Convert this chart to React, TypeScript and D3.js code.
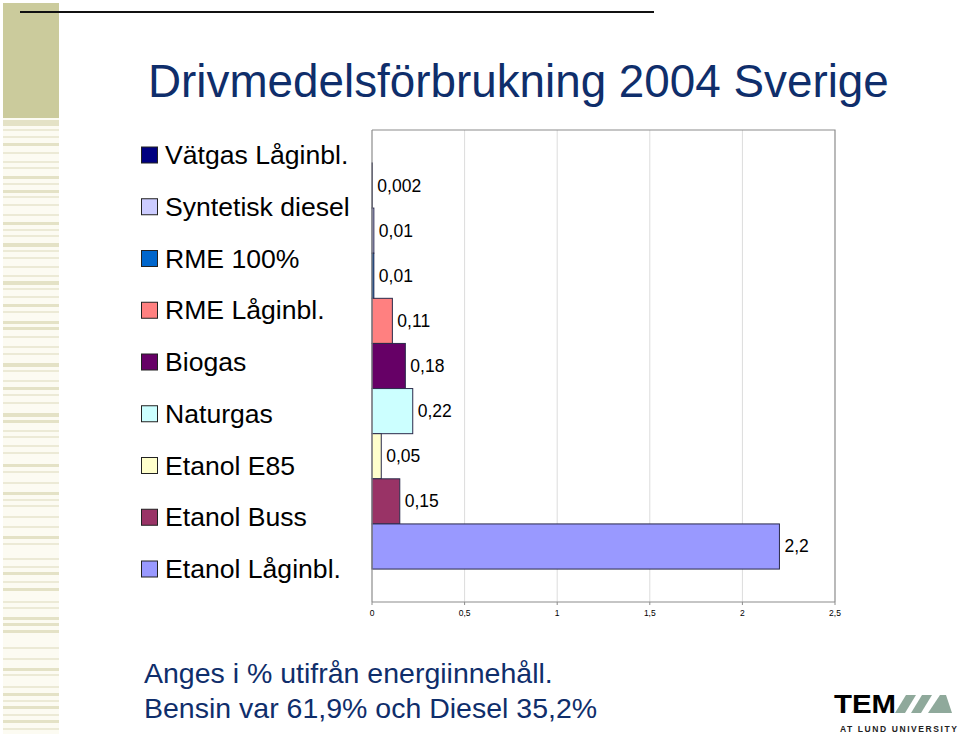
import React from "react";
import * as d3 from "d3";

const categories = [
  "Vätgas Låginbl.",
  "Syntetisk diesel",
  "RME 100%",
  "RME Låginbl.",
  "Biogas",
  "Naturgas",
  "Etanol E85",
  "Etanol Buss",
  "Etanol Låginbl.",
];
const values = [0.002, 0.01, 0.01, 0.11, 0.18, 0.22, 0.05, 0.15, 2.2];
const valueLabels = ["0,002", "0,01", "0,01", "0,11", "0,18", "0,22", "0,05", "0,15", "2,2"];
const colors = ["#000080", "#CCCCFF", "#0066CC", "#FF8080", "#660066", "#CCFFFF", "#FFFFCC", "#993366", "#9999FF"];
const xTicks = [0, 0.5, 1, 1.5, 2, 2.5];
const xTickLabels = ["0", "0,5", "1", "1,5", "2", "2,5"];

const title = "Drivmedelsförbrukning 2004 Sverige";
const footLines = ["Anges i % utifrån energiinnehåll.", "Bensin var 61,9% och Diesel 35,2%"];

// decorative stripes of the slide template: [y, height, shade]
const stripes: [number, number, number][] = [
  [120, 6, 1], [129, 2, 0], [136, 2, 0], [143, 3, 1], [152, 2, 0], [161, 2, 0], [167, 2, 0],
  [176, 3, 1], [183, 2, 0], [190, 3, 1], [196, 2, 0], [204, 2, 0], [214, 2, 0], [222, 3, 1],
  [229, 2, 0], [235, 2, 0], [243, 4, 1], [250, 2, 0], [257, 2, 0], [266, 2, 0], [275, 2, 0],
  [281, 4, 1], [288, 2, 0], [296, 2, 0], [304, 3, 1], [311, 2, 0], [321, 3, 1], [327, 3, 1],
  [336, 2, 0], [346, 2, 0], [353, 2, 0], [363, 4, 1], [370, 2, 0], [380, 2, 0], [387, 3, 1],
  [394, 2, 0], [402, 2, 0], [413, 4, 1], [420, 3, 1], [430, 2, 0], [436, 2, 0], [445, 2, 0],
  [452, 2, 0], [464, 3, 1], [471, 2, 0], [482, 2, 0], [492, 3, 1], [499, 2, 0], [505, 2, 0],
  [516, 2, 0], [526, 2, 0], [536, 3, 1], [543, 2, 0], [558, 2, 0], [566, 2, 0], [572, 3, 1],
  [581, 2, 0], [588, 3, 1], [601, 2, 0], [607, 2, 0], [617, 3, 1], [623, 3, 1], [630, 3, 1],
  [647, 2, 0], [658, 2, 0], [668, 3, 1], [674, 2, 0], [686, 2, 0], [693, 3, 1], [700, 2, 0],
  [706, 3, 1], [714, 2, 0], [720, 3, 1], [728, 2, 0],
];

const W = 960;
const H = 734;
const plot = { left: 372, right: 835, top: 130, bottom: 602 };

export default function App() {
  const x = d3.scaleLinear().domain([0, 2.5]).range([plot.left, plot.right]);
  const y = d3
    .scaleBand<string>()
    .domain(categories)
    .range([plot.top, plot.bottom])
    .paddingInner(0)
    .paddingOuter(0.73);

  const navy = "#0F2E6B";
  const font = "Liberation Sans, Arial, sans-serif";

  return (
    <svg
      width={W}
      height={H}
      style={{ position: "absolute", left: 0, top: 0, background: "#fff" }}
      fontFamily={font}
    >
      {/* template decoration */}
      <rect x={3} y={118} width={56} height={616} fill="#FCFBF2" />
      <rect x={3} y={3} width={56} height={115} fill="#CBCB9C" />
      {stripes.map(([sy, sh, s], i) => (
        <rect key={i} x={3} y={sy} width={56} height={sh} fill={s ? "#E4E2C6" : "#ECEAD6"} />
      ))}
      <line x1={20} x2={654} y1={12} y2={12} stroke="#111" strokeWidth={2.2} />

      {/* title */}
      <text x={148} y={97} fontSize={45.8} fill={navy}>
        {title}
      </text>

      {/* legend */}
      {categories.map((c, i) => {
        const cy = 155 + i * 51.75;
        return (
          <g key={c}>
            <rect x={141.5} y={cy - 8} width={16} height={16} fill={colors[i]} stroke="#222" strokeWidth={1} />
            <text x={165} y={cy + 9} fontSize={26.6} fill="#000">
              {c}
            </text>
          </g>
        );
      })}

      {/* plot area */}
      <rect x={plot.left} y={plot.top} width={plot.right - plot.left} height={plot.bottom - plot.top} fill="#fff" />
      {xTicks.slice(1, -1).map((t) => (
        <line key={t} x1={x(t)} x2={x(t)} y1={plot.top} y2={plot.bottom} stroke="#DCDCDC" strokeWidth={1} />
      ))}
      <path
        d={`M${plot.left},${plot.top}H${plot.right}V${plot.bottom}`}
        fill="none"
        stroke="#8C8C8C"
        strokeWidth={1.2}
      />
      {categories.map((c, i) => (
        <rect
          key={c}
          x={x(0)}
          y={y(c)!}
          width={x(values[i]) - x(0)}
          height={y.bandwidth()}
          fill={colors[i]}
          stroke="#2A2A4A"
          strokeWidth={1}
        />
      ))}
      {categories.map((c, i) => (
        <text key={c} x={x(values[i]) + 5} y={y(c)! + y.bandwidth() / 2 + 6} fontSize={17.5} fill="#000">
          {valueLabels[i]}
        </text>
      ))}
      <line x1={plot.left} x2={plot.left} y1={plot.top} y2={plot.bottom} stroke="#8C8C8C" strokeWidth={1.2} />
      <line x1={plot.left} x2={plot.right} y1={plot.bottom} y2={plot.bottom} stroke="#8C8C8C" strokeWidth={1.2} />
      {xTicks.map((t, i) => (
        <g key={t}>
          <line x1={x(t)} x2={x(t)} y1={plot.bottom} y2={plot.bottom + 3} stroke="#8C8C8C" />
          <text x={x(t)} y={616} fontSize={8.5} textAnchor="middle" fill="#000">
            {xTickLabels[i]}
          </text>
        </g>
      ))}

      {/* footnote */}
      {footLines.map((l, i) => (
        <text key={i} x={144} y={683 + i * 35} fontSize={28.5} fill={navy}>
          {l}
        </text>
      ))}

      {/* logo */}
      <text x={834} y={713} fontSize={26} fontWeight={900} fill="#000" textLength={62} lengthAdjust="spacingAndGlyphs">
        TEM
      </text>
      <polygon points="906,695 916,695 905,713 895,713" fill="#8FA99B" />
      <polygon points="922,695 932,695 921,713 911,713" fill="#8FA99B" />
      <polygon points="940,695 946,695 952,713 928,713" fill="#8FA99B" />
      <text x={840} y={732} fontSize={8.5} fontWeight={700} fill="#222" textLength={117} lengthAdjust="spacing">
        AT LUND UNIVERSITY
      </text>
    </svg>
  );
}
